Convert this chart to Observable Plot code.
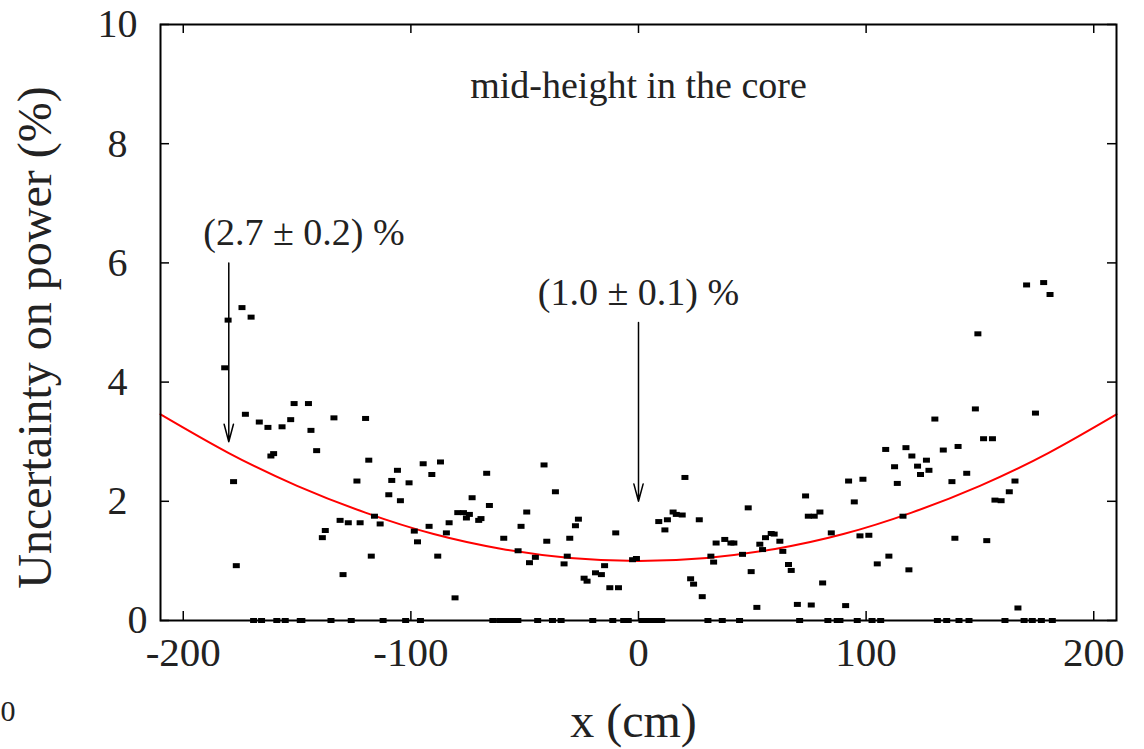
<!DOCTYPE html>
<html><head><meta charset="utf-8">
<script src="https://cdn.jsdelivr.net/npm/d3@7"></script>
<script src="https://cdn.jsdelivr.net/npm/@observablehq/plot@0.6"></script>
<style>body{margin:0;background:#fff} #chart svg{display:block}</style>
</head><body><div id="chart"></div>
<script>
// Measured points (x in cm, uncertainty in %)
const pointX = [-181.8,-180.3,-177.9,-176.7,-174.2,-172.7,-170.2,-166.6,-162.8,-161.5,-160.3,-156.6,-152.8,-151.3,-145.0,-143.9,-141.4,-138.9,-137.6,-133.8,-131.1,-129.8,-127.5,-123.7,-122.3,-119.9,-118.5,-117.4,-116.0,-113.5,-109.7,-108.4,-105.9,-104.6,-100.8,-98.5,-97.1,-94.6,-92.0,-90.8,-88.2,-87.0,-84.4,-83.2,-80.6,-79.4,-76.9,-75.6,-74.3,-73.1,-70.2,-69.2,-66.7,-65.5,-59.2,-52.9,-51.6,-49.1,-47.9,-45.3,-41.5,-40.3,-36.5,-32.7,-31.3,-30.2,-27.7,-26.4,-23.9,-22.6,-18.9,-16.3,-14.9,-12.6,-10.0,-8.8,-2.6,-0.9,
8.9,11.6,12.7,15.2,16.6,19.2,20.4,22.9,24.2,26.7,28.0,31.8,33.0,34.1,37.9,40.6,41.9,45.7,48.2,49.5,52.0,53.3,54.5,55.8,58.3,59.6,62.1,63.4,65.9,67.1,69.8,73.4,74.6,75.9,77.2,79.7,80.9,84.7,91.0,92.3,94.8,97.3,98.6,101.2,104.9,108.6,110.0,112.5,113.7,116.2,117.5,118.8,120.1,122.6,123.9,126.5,127.6,130.2,133.9,137.7,139.0,140.4,144.2,148.0,149.1,151.6,153.0,155.5,156.6,159.3,162.9,165.4,166.7,170.5,174.4,178.0,180.8];
const pointY = [4.24,5.04,2.33,0.92,5.25,3.46,5.09,3.33,3.24,2.76,2.80,3.25,3.37,3.64,3.64,3.19,2.85,1.39,1.51,3.40,1.68,0.77,1.64,2.34,1.64,3.39,2.69,1.08,1.75,1.62,2.11,2.35,2.52,2.01,2.31,1.50,1.32,2.63,1.58,2.45,1.08,2.66,1.47,1.64,0.38,1.81,1.81,1.72,1.78,2.06,1.68,1.71,2.47,1.93,1.38,1.17,1.58,1.82,0.97,1.06,2.61,1.33,2.16,0.95,1.08,1.38,1.59,1.70,0.71,0.66,0.80,0.77,0.92,0.55,1.47,0.55,1.02,1.04,
1.66,1.52,1.69,1.82,1.78,1.77,2.40,0.70,0.61,1.69,0.40,1.08,0.98,1.30,1.36,1.30,1.30,1.11,1.89,0.82,0.22,1.28,1.19,1.39,1.46,1.45,1.33,1.16,0.94,0.84,0.27,2.09,1.75,0.26,1.75,1.82,0.63,1.47,0.25,2.34,1.99,1.42,2.37,1.43,0.95,2.87,1.08,2.58,2.30,1.75,2.90,0.85,2.76,2.59,2.45,2.69,2.52,3.38,2.86,2.33,1.38,2.92,2.47,3.55,4.81,3.05,1.34,3.05,2.02,2.01,2.16,2.34,0.21,5.63,3.48,5.67,5.47];
// Points sitting at zero uncertainty
const zeroX = [-169.1,-165.6,-158.9,-155.2,-148.6,-147.9,-135.1,-126.2,-112.2,-102.3,-95.8,-64,-61,-58,-55.5,-53,-44.3,-37.8,-34,-20.1,-11.3,-6.5,-4.5,1.5,3.5,5.5,7.5,10.2,30.5,36.8,44.4,70.8,83.2,87.3,88.5,96.1,102.6,106.4,131.3,135.4,140.8,145.2,161,169.4,173,177,181.8];
// Fitted curve
const fitX = [-210,-180,-150,-120,-90,-60,-30,0,30,60,90,120,150,180,210];
const fitY = [3.46,2.81,2.26,1.81,1.45,1.20,1.05,1.00,1.05,1.20,1.45,1.81,2.26,2.81,3.46];
// Annotations
const annText = ["(2.7 ± 0.2) %", "(1.0 ± 0.1) %"];
const annTextX = [-147, 0];
const annTextY = [6.5, 5.5];
const arrowX = [-180, 0];
const arrowFrom = [6.0, 5.0];
const arrowTo = [3.0, 2.0];
const xTicks = [-200, -100, 0, 100, 200];
const yTicks = [0, 2, 4, 6, 8, 10];

const points = pointX.map((x, i) => ({x, y: pointY[i]})).concat(zeroX.map(x => ({x, y: 0})));
const fit = fitX.map((x, i) => ({x, y: fitY[i]}));
const anns = annText.map((t, i) => ({t, x: annTextX[i], y: annTextY[i]}));
const arrows = arrowX.map((x, i) => ({x, y1: arrowFrom[i], y2: arrowTo[i]}));

const W = 1144, H = 749, mL = 160, mR = 28, mT = 24, mB = 129;
const innerW = W - mL - mR, innerH = H - mT - mB, tickLen = 9;
const barSymbol = {draw(ctx) { ctx.moveTo(-3.5,-2.5); ctx.lineTo(3.5,-2.5); ctx.lineTo(3.5,2.5); ctx.lineTo(-3.5,2.5); ctx.closePath(); }};

const chart = Plot.plot({
  width: W, height: H,
  marginLeft: mL, marginRight: mR, marginTop: mT, marginBottom: mB,
  style: {fontFamily: "'Liberation Serif', serif", background: "white", color: "black"},
  x: {domain: [-210, 210], axis: null},
  y: {domain: [0, 10], axis: null},
  marks: [
    Plot.line(fit, {x: "x", y: "y", stroke: "#ff0000", strokeWidth: 2, curve: "natural"}),
    Plot.dot(points, {x: "x", y: "y", symbol: barSymbol, fill: "black", stroke: null, r: 3}),
    Plot.arrow(arrows, {x1: "x", x2: "x", y1: "y1", y2: "y2", stroke: "black", strokeWidth: 1.5, headLength: 18, headAngle: 30}),
    Plot.frame({stroke: "black", strokeWidth: 2}),
    Plot.tickY(yTicks, {y: d => d, insetRight: innerW - tickLen, stroke: "black", strokeWidth: 1.5}),
    Plot.tickY(yTicks, {y: d => d, insetLeft: innerW - tickLen, stroke: "black", strokeWidth: 1.5}),
    Plot.tickX(xTicks, {x: d => d, insetTop: innerH - tickLen, stroke: "black", strokeWidth: 1.5}),
    Plot.tickX(xTicks, {x: d => d, insetBottom: innerH - tickLen, stroke: "black", strokeWidth: 1.5}),
    Plot.text(xTicks, {x: d => d, frameAnchor: "bottom", text: d => String(d), lineAnchor: "bottom", dy: 45, fontSize: 41, fill: "#222"}),
    Plot.text(yTicks.filter(d => d !== 0), {y: d => d, frameAnchor: "left", text: d => String(d), textAnchor: "middle", lineAnchor: "middle", dx: -43, fontSize: 40, fill: "#222"}),
    Plot.text(yTicks.filter(d => d === 0), {y: d => d, frameAnchor: "left", text: d => String(d), textAnchor: "middle", lineAnchor: "middle", dx: -23, fontSize: 40, fill: "#222"}),
    Plot.text(anns, {x: "x", y: "y", text: "t", lineAnchor: "middle", fontSize: 38, fill: "#222"}),
    Plot.text(["mid-height in the core"], {frameAnchor: "top", lineAnchor: "middle", dy: 61, fontSize: 38, fill: "#222"}),
    Plot.text(["Uncertainty on power (%)"], {frameAnchor: "left", textAnchor: "middle", rotate: -90, lineAnchor: "bottom", dx: -110, dy: 15, fontSize: 48, fill: "#222"}),
    Plot.text(["x (cm)"], {frameAnchor: "bottom", lineAnchor: "bottom", dx: -5, dy: 116, fontSize: 48, fill: "#222"}),
    Plot.text(["0"], {frameAnchor: "bottom-left", textAnchor: "start", lineAnchor: "bottom", dx: -160, dy: 100, fontSize: 30, fill: "#222"})
  ]
});
document.getElementById("chart").appendChild(chart);
</script>
</body></html>
